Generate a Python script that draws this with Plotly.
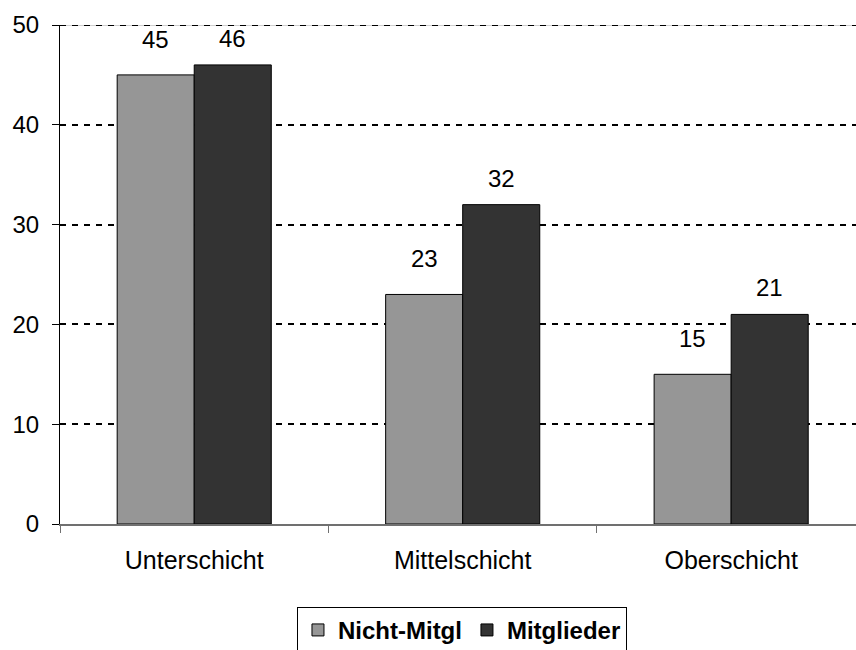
import plotly.graph_objects as go

categories = ["Unterschicht", "Mittelschicht", "Oberschicht"]
nicht_mitgl = [45, 23, 15]
mitglieder = [46, 32, 21]
series_names = ["Nicht-Mitgl", "Mitglieder"]
y_ticks = [0, 10, 20, 30, 40, 50]

FONT = "Liberation Sans, Arial, sans-serif"
FS = 24
BARGAP = 0.426
X_RANGE = [-0.5, 2.465]
PLOT_W = 856 - 60
cat_px = PLOT_W / (X_RANGE[1] - X_RANGE[0])
bar_px = cat_px * (1 - BARGAP) / 2

fig = go.Figure()
fig.add_trace(go.Bar(
    x=categories, y=nicht_mitgl, name=series_names[0],
    marker=dict(color="#969696", line=dict(color="#000000", width=1)),
))
fig.add_trace(go.Bar(
    x=categories, y=mitglieder, name=series_names[1],
    marker=dict(color="#333333", line=dict(color="#000000", width=1)),
))

# value labels above the bars
for vals, sign, lift in ((nicht_mitgl, -1, 20), (mitglieder, 1, 11)):
    for c, v in zip(categories, vals):
        fig.add_annotation(
            x=c, y=v, xref="x", yref="y", text=str(v), showarrow=False,
            xshift=sign * bar_px / 2, yshift=lift, yanchor="bottom",
            font=dict(family=FONT, size=FS, color="#000000"),
        )

# top gridline at 50
fig.add_shape(type="line", xref="paper", yref="y", x0=0, x1=1, y0=50, y1=50,
              line=dict(color="#a0a0a0", width=1), layer="below")
fig.add_shape(type="line", xref="paper", yref="y", x0=0, x1=1, y0=50, y1=50,
              line=dict(color="#000000", width=2, dash="6px,6px"), layer="below")

fig.update_layout(
    width=856, height=650,
    margin=dict(l=60, r=0, t=25, b=126, autoexpand=False),
    paper_bgcolor="white", plot_bgcolor="white",
    barmode="group", bargap=BARGAP, bargroupgap=0,
    font=dict(family=FONT, size=FS, color="#000000"),
    showlegend=True,
    legend=dict(
        orientation="h", x=0.505, xanchor="center", y=-0.166, yanchor="top",
        bordercolor="#000000", borderwidth=1,
        font=dict(family=FONT, size=FS, color="#000000", weight="bold"),
        itemwidth=30, tracegroupgap=0,
    ),
    xaxis=dict(
        range=X_RANGE, showgrid=False, automargin=False,
        showline=True, linecolor="#707070", linewidth=2,
        ticks="outside", tickson="boundaries", ticklen=7, tickcolor="#707070",
        tickfont=dict(family=FONT, size=25, color="#000000"),
        ticklabelstandoff=13,
        zeroline=False,
    ),
    yaxis=dict(
        range=[0, 50], tickvals=y_ticks, ticktext=[str(v) for v in y_ticks],
        showgrid=True, gridcolor="#000000", gridwidth=2, griddash="6px,6px",
        showline=True, linecolor="#000000", linewidth=1, automargin=False,
        ticks="outside", ticklen=7, tickcolor="#000000",
        tickfont=dict(family=FONT, size=FS, color="#000000"),
        ticklabelstandoff=8,
        zeroline=False,
    ),
)

fig.write_html("out.html", config={"displayModeBar": False},
               post_script="document.body.style.margin='0';")
